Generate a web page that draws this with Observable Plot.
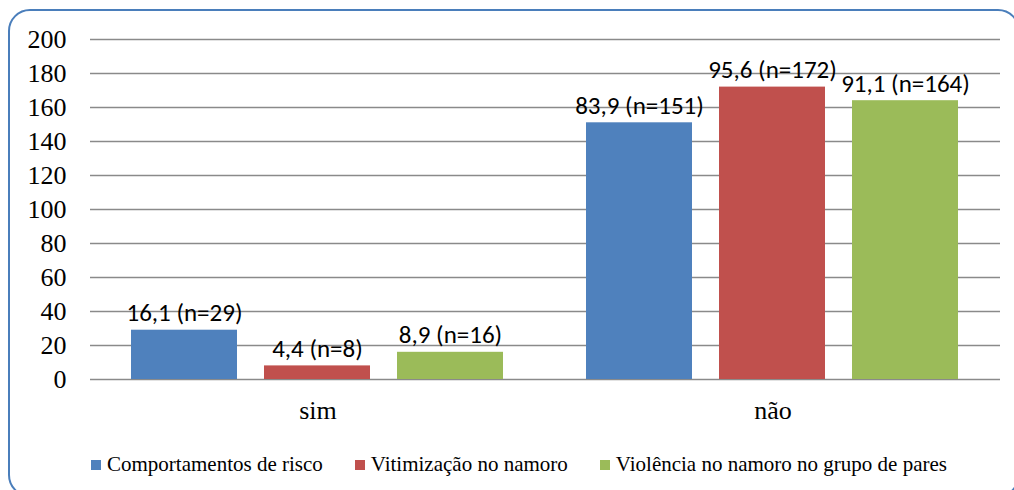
<!DOCTYPE html>
<html>
<head>
<meta charset="utf-8">
<script src="https://cdn.jsdelivr.net/npm/d3@7"></script>
<script src="https://cdn.jsdelivr.net/npm/@observablehq/plot@0.6"></script>
</head>
<body style="margin:0;padding:0;background:#fff">
<div id="wrap" style="position:relative;width:1014px;height:490px;overflow:hidden;background:#fff">
  <div id="chart" style="position:absolute;left:0;top:0"></div>
  <div id="legend" style="position:absolute;left:91px;top:452px;display:flex;align-items:center;font-family:'Liberation Serif';font-size:21px;color:#000;white-space:nowrap"></div>
  <div id="frame" style="position:absolute;left:8px;top:9px;width:1012px;height:488px;border:2px solid #4a7ebb;border-radius:22px;box-sizing:border-box;pointer-events:none"></div>
</div>
<script>
const categories = ["sim", "não"];
const series = ["Comportamentos de risco", "Vitimização no namoro", "Violência no namoro no grupo de pares"];
const colors = ["#4f81bd", "#c0504d", "#9bbb59"];
const countsSim = [29, 8, 16];
const countsNao = [151, 172, 164];
const pctSim = [16.1, 4.4, 8.9];
const pctNao = [83.9, 95.6, 91.1];
const yTicks = [0, 20, 40, 60, 80, 100, 120, 140, 160, 180, 200];

const rows = [];
series.forEach((s, i) => {
  rows.push({cat: categories[0], serie: s, value: countsSim[i], pct: pctSim[i]});
  rows.push({cat: categories[1], serie: s, value: countsNao[i], pct: pctNao[i]});
});
const fmt = d => d.pct.toFixed(1).replace(".", ",") + " (n=" + d.value + ")";

const chart = Plot.plot({
  width: 1014,
  height: 430,
  marginLeft: 90,
  marginRight: 14,
  marginTop: 39,
  marginBottom: 51,
  style: {fontFamily: "Liberation Serif", fontSize: "26px", color: "#000", background: "transparent", overflow: "visible"},
  fx: {domain: categories, padding: 0, label: null},
  x: {domain: series, axis: null, paddingInner: 0.2, paddingOuter: 0.3},
  y: {domain: [0, 200], label: null},
  color: {domain: series, range: colors},
  marks: [
    Plot.ruleY(yTicks, {stroke: "#8a8a8a", strokeWidth: 1.5}),
    Plot.barY(rows, {fx: "cat", x: "serie", y: "value", fill: "serie"}),
    Plot.text(rows, {fx: "cat", x: "serie", y: "value", text: fmt, lineAnchor: "bottom", dy: -9, fontFamily: "Carlito", fontSize: 25, fill: "#000"}),
    Plot.axisY(yTicks, {tickSize: 0, tickPadding: 24, label: null, fontFamily: "Liberation Serif", fontSize: 26, fill: "#000"}),
    Plot.axisFx({anchor: "bottom", tickSize: 0, tickPadding: 21, label: null, fontFamily: "Liberation Serif", fontSize: 26, fill: "#000"})
  ]
});
document.getElementById("chart").appendChild(chart);

const legend = document.getElementById("legend");
series.forEach((s, i) => {
  const item = document.createElement("div");
  item.style.cssText = "display:flex;align-items:center;margin-right:32px";
  const sw = document.createElement("div");
  sw.style.cssText = "width:10px;height:10px;margin-right:6px;background:" + colors[i];
  const t = document.createElement("span");
  t.style.fontFamily = "Liberation Serif";
  t.textContent = s;
  item.appendChild(sw);
  item.appendChild(t);
  legend.appendChild(item);
});
</script>
</body>
</html>
